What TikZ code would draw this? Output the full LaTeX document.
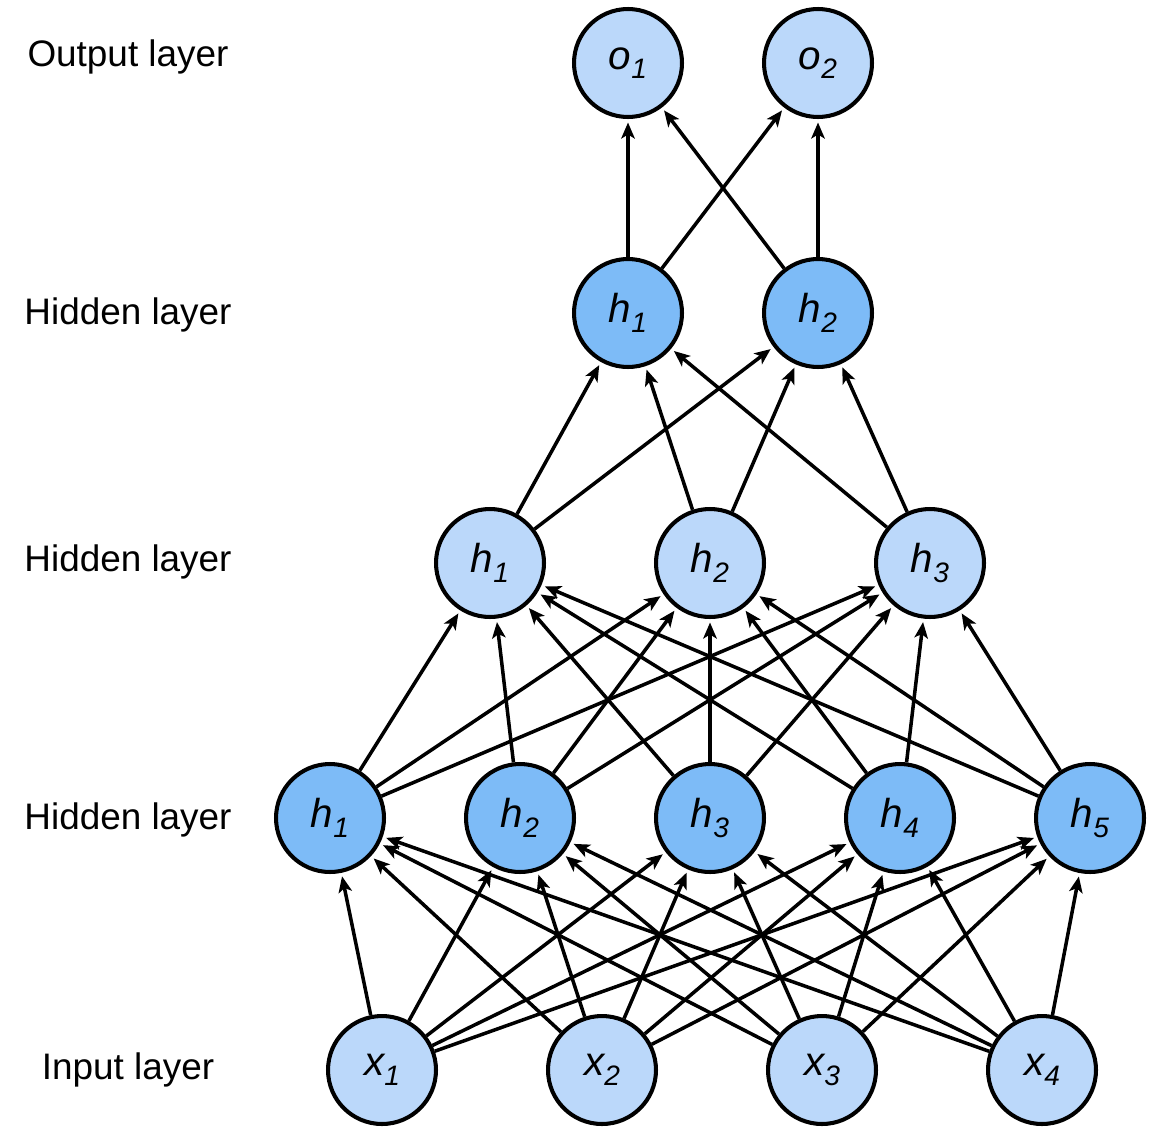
\documentclass[tikz,border=0pt]{standalone}
\usepackage{fontspec}
\setmainfont{Liberation Sans}
\usepackage{tikz}
\usetikzlibrary{positioning,arrows.meta}
\usepackage{xcolor}
\definecolor{unitlight}{RGB}{187,216,250}
\definecolor{unitdark}{RGB}{125,187,247}
\newcommand{\unitname}[2]{#1\raisebox{-0.45ex}{\fontsize{16}{18}\selectfont #2}}

\begin{document}
\begin{tikzpicture}[x=0.02cm, y=-0.02cm,
  unit/.style={circle, draw, line width=2.3pt, minimum size=2.16cm, inner sep=0pt, font=\fontsize{23}{27}\selectfont\itshape},
  inunit/.style={unit, fill=unitlight},
  hidunit/.style={unit, fill=unitdark},
  layer/.style={font=\fontsize{21}{25}\selectfont},
  arrow/.style={-{Stealth[length=0.32cm, width=0.27cm, inset=0.08cm]}, line width=2pt, shorten >=2pt}
]
\useasboundingbox (0,0) rectangle (1149,1129);

% layer names
\node[layer] (lout) at (128,57) {Output layer};
\node[layer] (lhc) at (128,315) {Hidden layer};
\node[layer] (lhb) at (128,562) {Hidden layer};
\node[layer] (lha) at (128,820) {Hidden layer};
\node[layer] (lin) at (128,1070) {Input layer};

% units
\node[inunit] (o1) at (628,63) {\unitname{o}{1}};
\node[inunit] (o2) at (818,63) {\unitname{o}{2}};

\node[hidunit] (c1) at (628,313) {\unitname{h}{1}};
\node[hidunit] (c2) at (818,313) {\unitname{h}{2}};

\node[inunit] (b1) at (490,563) {\unitname{h}{1}};
\node[inunit] (b2) at (710,563) {\unitname{h}{2}};
\node[inunit] (b3) at (930,563) {\unitname{h}{3}};

\node[hidunit] (a1) at (330,818) {\unitname{h}{1}};
\node[hidunit] (a2) at (520,818) {\unitname{h}{2}};
\node[hidunit] (a3) at (710,818) {\unitname{h}{3}};
\node[hidunit] (a4) at (900,818) {\unitname{h}{4}};
\node[hidunit] (a5) at (1090,818) {\unitname{h}{5}};

\node[inunit] (x1) at (382,1070) {\unitname{x}{1}};
\node[inunit] (x2) at (602,1070) {\unitname{x}{2}};
\node[inunit] (x3) at (822,1070) {\unitname{x}{3}};
\node[inunit] (x4) at (1042,1070) {\unitname{x}{4}};

% connections
\foreach \i in {1,...,4}
  \foreach \j in {1,...,5}
    \draw[arrow] (x\i) -- (a\j);
\foreach \i in {1,...,5}
  \foreach \j in {1,...,3}
    \draw[arrow] (a\i) -- (b\j);
\foreach \i in {1,...,3}
  \foreach \j in {1,2}
    \draw[arrow] (b\i) -- (c\j);
\foreach \i in {1,2}
  \foreach \j in {1,2}
    \draw[arrow] (c\i) -- (o\j);
\end{tikzpicture}
\end{document}
